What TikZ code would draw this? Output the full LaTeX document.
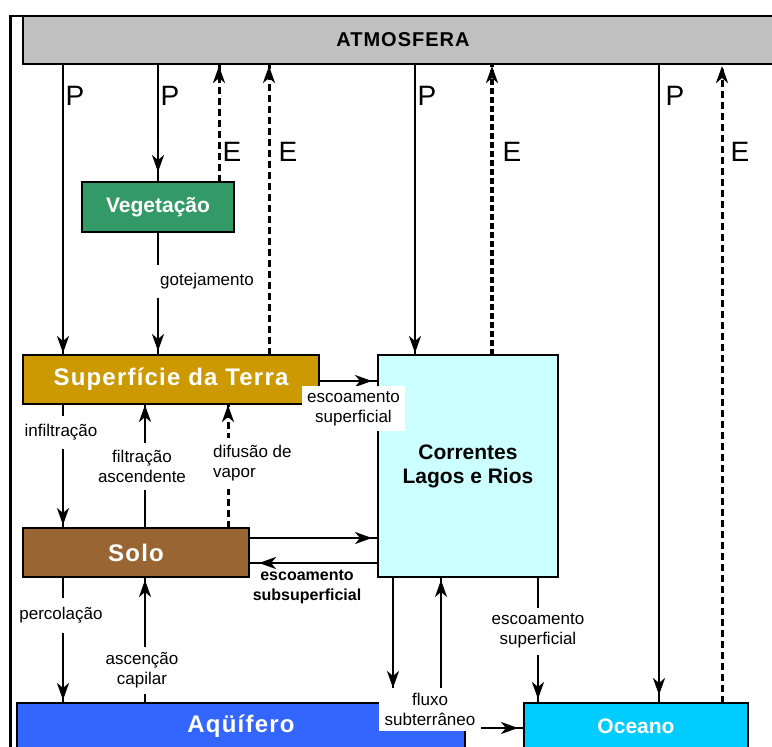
\documentclass[tikz,border=0pt]{standalone}
\usepackage{fontspec}
\setmainfont{Liberation Sans}
\usetikzlibrary{arrows.meta,decorations.markings}
\definecolor{atmc}{HTML}{C0C0C0}
\definecolor{vegc}{HTML}{339966}
\definecolor{supc}{HTML}{CC9900}
\definecolor{soloc}{HTML}{996633}
\definecolor{corc}{HTML}{CCFFFF}
\definecolor{aqc}{HTML}{3366FF}
\definecolor{ocec}{HTML}{00CCFF}
\begin{document}
\begin{tikzpicture}[x=1pt,y=-1pt,
  box/.style={draw=black, line width=2.5pt, rectangle, anchor=north west, inner sep=0pt, outer sep=0pt, text=white, font=\bfseries\fontsize{21}{25}\selectfont},
  wide/.style={font=\bfseries\fontsize{#1}{#1}\selectfont\addfontfeature{LetterSpace=5}},
  lbl/.style={fill=white, inner xsep=3pt, inner ysep=0pt, font=\fontsize{17}{20}\selectfont, align=center},
  pe/.style={font=\fontsize{28}{30}\selectfont, inner sep=0pt},
  thinl/.style={line width=2pt},
  flow/.style={line width=2.7pt},
  evap/.style={line width=3pt, dash pattern=on 7pt off 4pt},
  tipat/.style={postaction={decorate}, decoration={markings, mark=at position #1 with {\arrow{Stealth[length=17pt,width=12pt,inset=5pt]}}}},
]
\useasboundingbox (0,0) rectangle (772,747);
\clip (0,0) rectangle (772,747);

% outer frame
\draw[line width=2.5pt] (10.5,760) -- (10.5,16) -- (780,16);

% boxes
\node[box, fill=atmc, text=black, minimum width=760pt, minimum height=48pt, wide=20] (atm) at (23,16) {ATMOSFERA};
\node[box, fill=vegc, minimum width=152pt, minimum height=50pt] (veg) at (82,182) {Vegetação};
\node[box, fill=supc, minimum width=296pt, minimum height=49pt, wide=24] (sup) at (23,355) {Superfície da Terra};
\node[box, fill=soloc, minimum width=226pt, minimum height=49pt, wide=24] (solo) at (23,528) {Solo};
\node[box, fill=corc, text=black, align=center, minimum width=180pt, minimum height=222pt, font=\bfseries\fontsize{21}{24}\selectfont] (cor) at (378,355) {Correntes\\Lagos e Rios};
\node[box, fill=aqc, minimum width=448pt, minimum height=47pt, wide=24] (aq) at (17,703) {Aqüífero};
\node[box, fill=ocec, minimum width=224pt, minimum height=47pt] (oce) at (524,703) {Oceano};

% helper coordinates
\foreach \xx in {63,145,158,219,228,269,393,415,441,492,538,659,722}
  \coordinate (c\xx) at (\xx,0);
\foreach \yy in {381,538,563,728}
  \coordinate (h\yy) at (0,\yy);

% precipitation / evaporation
\draw[thinl, tipat=-2pt] (atm.south -| c63) -- (sup.north -| c63);
\draw[thinl, tipat=-10pt] (atm.south -| c158) -- (veg.north -| c158);
\draw[evap, tipat=-2pt] (veg.north -| c219) -- (atm.south -| c219);
\draw[evap, tipat=-2pt] (sup.north -| c269) -- (atm.south -| c269);
\draw[thinl, tipat=-2pt] (atm.south -| c415) -- (cor.north -| c415);
\draw[line width=4pt, dash pattern=on 6pt off 3pt, tipat=-2pt] (cor.north -| c492) -- (atm.south -| c492);
\draw[thinl, tipat=-8pt] (atm.south -| c659) -- (oce.north -| c659);
\draw[evap, tipat=-2pt] (oce.north -| c722) -- (atm.south -| c722);

% internal flows
\draw[thinl, tipat=-4pt] (veg.south -| c158) -- (sup.north -| c158);
\draw[thinl, tipat=-6pt] (sup.east |- h381) -- (cor.west |- h381);
\draw[flow, tipat=-3pt] (sup.south -| c63) -- (solo.north -| c63);
\draw[flow, tipat=-1pt] (solo.north -| c145) -- (sup.south -| c145);
\draw[evap, tipat=-1pt] (solo.north -| c228) -- (sup.south -| c228);
\draw[thinl, tipat=-6pt] (solo.east |- h538) -- (cor.west |- h538);
\draw[flow, tipat=-10pt] (cor.west |- h563) -- (solo.east |- h563);
\draw[flow, tipat=-3pt] (solo.south -| c63) -- (aq.north -| c63);
\draw[flow, tipat=-3pt] (aq.north -| c145) -- (solo.south -| c145);
\draw[thinl, tipat=-15pt] (cor.south -| c393) -- (aq.north -| c393);
\draw[thinl, tipat=-3pt] (aq.north -| c441) -- (cor.south -| c441);
\draw[flow, tipat=-6pt] (aq.east |- h728) -- (oce.west |- h728);
\draw[flow, tipat=-4pt] (cor.south -| c538) -- (oce.north -| c538);

% labels
\node[lbl, minimum height=33pt] (linf) at (61,432) {infiltração};
\node[lbl, minimum height=47pt] (lfil) at (142,466) {filtração\\ascendente};
\node[lbl, minimum height=51pt, anchor=west, align=left, inner xsep=2pt] (ldif) at (211,463) {difusão de\\vapor};
\node[lbl, minimum height=33pt, anchor=west, inner xsep=5pt] (lgot) at (155,281) {gotejamento};
\node[lbl, minimum width=103pt, minimum height=45pt] (lesc1) at (353.5,408.5) {escoamento\\superficial};
\node[lbl, fill=none, font=\bfseries\fontsize{16}{20}\selectfont] (lsub) at (307,587) {escoamento\\subsuperficial};
\node[lbl, minimum height=35pt] (lperc) at (61,615) {percolação};
\node[lbl, minimum height=47pt] (lasc) at (142,670) {ascenção\\capilar};
\node[lbl, minimum height=47pt] (lesc2) at (538,631) {escoamento\\superficial};
\node[lbl, minimum width=102pt, minimum height=43pt] (lflu) at (430,709.5) {fluxo\\subterrâneo};

% P / E
\node[pe] (p1) at (75,96) {P};
\node[pe] (p2) at (170,96) {P};
\node[pe] (p3) at (427,96) {P};
\node[pe] (p4) at (675,96) {P};
\node[pe] (e1) at (232,152) {E};
\node[pe] (e2) at (288,152) {E};
\node[pe] (e3) at (512,152) {E};
\node[pe] (e4) at (740,152) {E};
\end{tikzpicture}
\end{document}
